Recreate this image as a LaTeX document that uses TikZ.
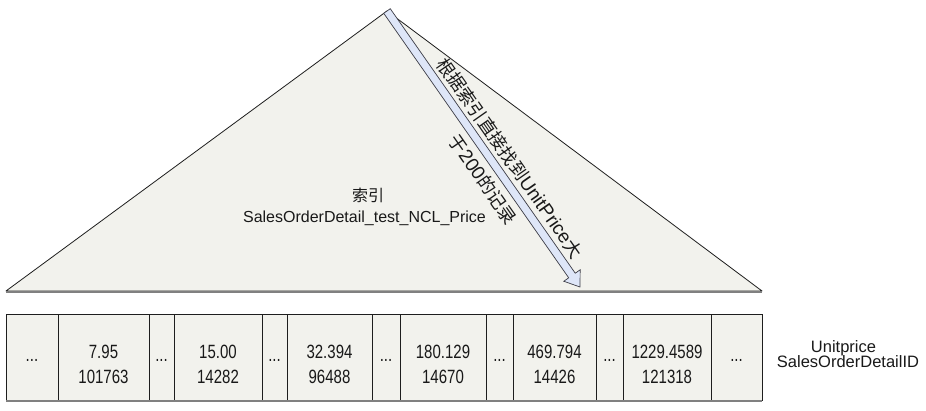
\documentclass[tikz,border=0pt]{standalone}
\usepackage{fontspec}
\setmainfont{Liberation Sans}
\newfontfamily\cjk{Noto Sans CJK SC}
\usetikzlibrary{calc}
\definecolor{shapefill}{RGB}{242,242,237}
\definecolor{arrowfill}{RGB}{222,230,248}
\definecolor{arrowline}{RGB}{60,60,70}
\definecolor{shadowgray}{RGB}{128,128,128}
\definecolor{outline}{RGB}{30,30,30}
\definecolor{txt}{RGB}{25,25,25}
\newcommand{\tallnum}[1]{\scalebox{1}[1.28]{#1}}
\newcommand{\zh}[1]{{\cjk\fontsize{18}{22}\selectfont #1}}
\begin{document}
\begin{tikzpicture}[x=1pt,y=-1pt,
  cell/.style={draw=outline, line width=0.8pt, fill=shapefill, minimum height=86pt,
    inner sep=0pt, outer sep=0pt, anchor=north west},
  celltxt/.style={font=\fontsize{15}{18}\selectfont, text=txt, anchor=base, inner sep=0pt},
  lbltxt/.style={font=\fontsize{16}{19}\selectfont, text=txt, anchor=base, inner sep=0pt},
  legtxt/.style={font=\fontsize{16.5}{19}\selectfont, text=txt, anchor=base, inner sep=0pt},
  arrowtxt/.style={font=\fontsize{19}{22}\selectfont, text=txt, inner sep=0pt, rotate=-55.04},
  shadowline/.style={draw=shadowgray, line width=2.6pt}]
\useasboundingbox (0,0) rectangle (926,411);

% triangle (index)
\coordinate (apex) at (387,11);
\coordinate (bl) at (6,291);
\coordinate (br) at (762,291);
\filldraw[fill=shapefill, draw=outline, line width=0.8pt, line join=round] (apex) -- (bl) -- (br) -- cycle;
\coordinate (sl) at (6,292);
\coordinate (sr) at (762,292);
\draw[shadowline] (sl) -- (sr);

% index label
\node[lbltxt] (idx) at (368,202) {\cjk 索引};
\node[lbltxt] (idxname) at (364.5,222.5) {SalesOrderDetail\_test\_NCL\_Price};

% arrow
\coordinate (tip) at (580,287);
\coordinate (hb) at ($(tip)!14pt!(apex)$);
\filldraw[fill=arrowfill, draw=arrowline, line width=0.7pt, line join=miter]
  ($(apex)!4pt!90:(tip)$) -- ($(hb)!4pt!90:(tip)$) -- ($(hb)!10pt!90:(tip)$) -- (tip)
  -- ($(hb)!10pt!-90:(tip)$) -- ($(hb)!4pt!-90:(tip)$) -- ($(apex)!4pt!-90:(tip)$) -- cycle;
\coordinate (m1) at ($(apex)!191pt!(tip)$);
\coordinate (m2) at ($(apex)!193pt!(tip)$);
\node[arrowtxt] (seek1) at ($(m1)!16.5pt!90:(tip)$)
  {\zh{根据索引直接找到}UnitPrice\zh{大}};
\node[arrowtxt] (seek2) at ($(m2)!18pt!-90:(tip)$)
  {\zh{于}200\zh{的记录}};

% leaf row
\node[cell, minimum width=52pt] (c1) at (6,314) {};
\node[cell, minimum width=91pt] (c2) at (58,314) {};
\node[cell, minimum width=25pt] (c3) at (149,314) {};
\node[cell, minimum width=88pt] (c4) at (174,314) {};
\node[cell, minimum width=25pt] (c5) at (262,314) {};
\node[cell, minimum width=85pt] (c6) at (287,314) {};
\node[cell, minimum width=28pt] (c7) at (372,314) {};
\node[cell, minimum width=86pt] (c8) at (400,314) {};
\node[cell, minimum width=27pt] (c9) at (486,314) {};
\node[cell, minimum width=83pt] (c10) at (513,314) {};
\node[cell, minimum width=27pt] (c11) at (596,314) {};
\node[cell, minimum width=88pt] (c12) at (623,314) {};
\node[cell, minimum width=51pt] (c13) at (711,314) {};
\coordinate (rl) at (6,401);
\coordinate (rr) at (762,401);
\draw[shadowline] (rl) -- (rr);

% cell texts
\node[celltxt] (d1) at (32,362) {\tallnum{...}};
\node[celltxt] (v2a) at (103.5,359) {\tallnum{7.95}};
\node[celltxt] (v2b) at (103.5,384) {\tallnum{101763}};
\node[celltxt] (d3) at (161.5,362) {\tallnum{...}};
\node[celltxt] (v4a) at (218,359) {\tallnum{15.00}};
\node[celltxt] (v4b) at (218,384) {\tallnum{14282}};
\node[celltxt] (d5) at (274.5,362) {\tallnum{...}};
\node[celltxt] (v6a) at (329.5,359) {\tallnum{32.394}};
\node[celltxt] (v6b) at (329.5,384) {\tallnum{96488}};
\node[celltxt] (d7) at (386,362) {\tallnum{...}};
\node[celltxt] (v8a) at (443,359) {\tallnum{180.129}};
\node[celltxt] (v8b) at (443,384) {\tallnum{14670}};
\node[celltxt] (d9) at (499.5,362) {\tallnum{...}};
\node[celltxt] (v10a) at (554.5,359) {\tallnum{469.794}};
\node[celltxt] (v10b) at (554.5,384) {\tallnum{14426}};
\node[celltxt] (d11) at (609.5,362) {\tallnum{...}};
\node[celltxt] (v12a) at (667,359) {\tallnum{1229.4589}};
\node[celltxt] (v12b) at (667,384) {\tallnum{121318}};
\node[celltxt] (d13) at (736.5,362) {\tallnum{...}};

% row legend
\node[legtxt] (leg1) at (843.5,352.5) {Unitprice};
\node[legtxt] (leg2) at (848,367) {SalesOrderDetailID};
\end{tikzpicture}
\end{document}
